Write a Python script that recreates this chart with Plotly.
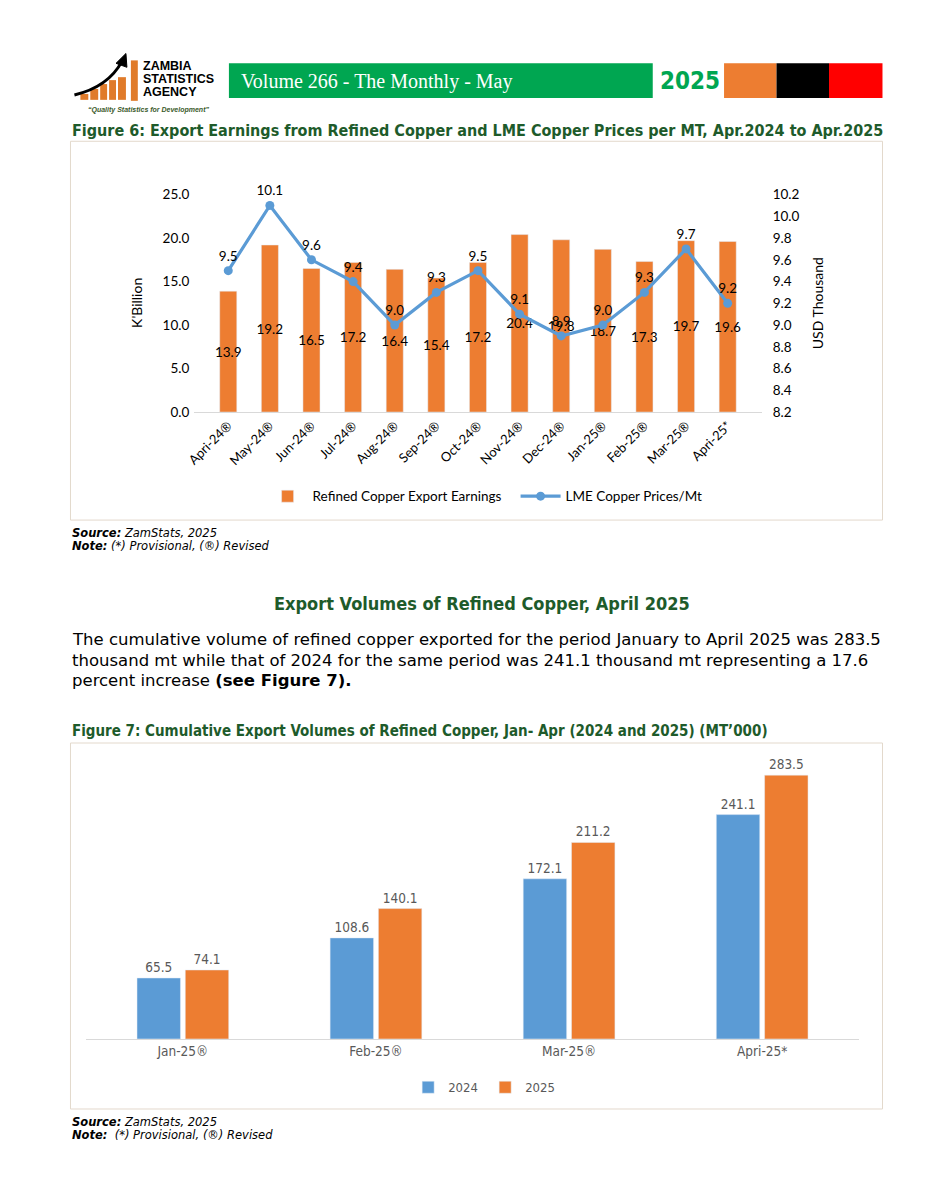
import plotly.graph_objects as go

# ---------------- data ----------------
months = ["Apri-24®", "May-24®", "Jun-24®", "Jul-24®", "Aug-24®", "Sep-24®", "Oct-24®",
          "Nov-24®", "Dec-24®", "Jan-25®", "Feb-25®", "Mar-25®", "Apri-25*"]
earnings = [13.9, 19.2, 16.5, 17.2, 16.4, 15.4, 17.2, 20.4, 19.8, 18.7, 17.3, 19.7, 19.6]
lme_prices = [9.5, 10.1, 9.6, 9.4, 9.0, 9.3, 9.5, 9.1, 8.9, 9.0, 9.3, 9.7, 9.2]

vol_cats = ["Jan-25®", "Feb-25®", "Mar-25®", "Apri-25*"]
vol_2024 = [65.5, 108.6, 172.1, 241.1]
vol_2025 = [74.1, 140.1, 211.2, 283.5]

# ---------------- helpers ----------------
# page is 940x1197; the figure sits inside the default 8px body margin
OFF = 8
W, H = 940 - 2 * OFF, 1197 - 2 * OFF
def X(px):
    return (px - OFF) / W
def Y(py):
    return 1 - (py - OFF) / H

ORANGE = "#ED7D31"
BLUE = "#5B9BD5"
GREEN_T = "#1E5B2B"
CAL = "Lato, Carlito, Calibri, sans-serif"
NARROW = "DejaVu Sans Condensed, sans-serif"
GOTH = "DejaVu Sans, Century Gothic, sans-serif"

fig = go.Figure()

# ---------------- Figure 6 ----------------
fig.add_trace(go.Bar(
    x=months, y=earnings, name="Refined Copper Export Earnings",
    marker_color=ORANGE, width=0.41,
    text=[f"{v:.1f}" for v in earnings], textposition="inside",
    insidetextanchor="middle", textangle=0,
    textfont=dict(family=CAL, size=13.5, color="black"),
    xaxis="x", yaxis="y", legend="legend", hoverinfo="skip"))
fig.add_trace(go.Scatter(
    x=months, y=lme_prices, name="LME Copper Prices/Mt",
    mode="lines+markers+text", line=dict(color=BLUE, width=3.2),
    marker=dict(color=BLUE, size=9),
    text=[f"{v:.1f}" for v in lme_prices], textposition="top center",
    textfont=dict(family=CAL, size=13.5, color="black"),
    xaxis="x", yaxis="y2", legend="legend", cliponaxis=False, hoverinfo="skip"))

# ---------------- Figure 7 ----------------
fig.add_trace(go.Bar(
    x=vol_cats, y=vol_2024, name="2024", marker_color=BLUE,
    text=[f"{v:.1f}" for v in vol_2024], textposition="outside",
    textfont=dict(family=NARROW, size=13.5, color="#595959"),
    xaxis="x3", yaxis="y3", legend="legend2", cliponaxis=False, hoverinfo="skip"))
fig.add_trace(go.Bar(
    x=vol_cats, y=vol_2025, name="2025", marker_color=ORANGE,
    text=[f"{v:.1f}" for v in vol_2025], textposition="outside",
    textfont=dict(family=NARROW, size=13.5, color="#595959"),
    xaxis="x3", yaxis="y3", legend="legend2", cliponaxis=False, hoverinfo="skip"))

shapes = []
annotations = []

def rect(x0, y0, x1, y1, fill=None, line=None, lw=0):
    shapes.append(dict(type="rect", xref="paper", yref="paper",
                       x0=X(x0), x1=X(x1), y0=Y(y1), y1=Y(y0),
                       fillcolor=fill if fill else "rgba(0,0,0,0)",
                       line=dict(color=line if line else "rgba(0,0,0,0)", width=lw),
                       layer="below"))

def text(px, py, s, size, color="black", family=GOTH, xanchor="left", angle=0):
    annotations.append(dict(x=X(px), y=Y(py), xref="paper", yref="paper", text=s,
                            showarrow=False, xanchor=xanchor, yanchor="middle",
                            textangle=angle,
                            font=dict(size=size, color=color, family=family)))

# ----- header / logo -----
for (x0, y0, x1, y1) in [(72, 87, 80, 93), (82, 82, 90, 93), (92, 77, 99, 93),
                         (101, 73, 108, 93), (110, 70, 118, 93), (123, 53, 130, 94)]:
    rect(x0, y0, x1, y1, fill="#E07B2A")
shapes.append(dict(type="path", xref="paper", yref="paper",
                   path=f"M {X(66)},{Y(88)} Q {X(100)},{Y(80)} {X(114)},{Y(54)}",
                   line=dict(color="black", width=3)))
shapes.append(dict(type="path", xref="paper", yref="paper",
                   path=f"M {X(108)},{Y(56)} L {X(118)},{Y(46)} L {X(119)},{Y(60)} Z",
                   fillcolor="black", line=dict(color="black", width=1)))
text(133, 59, "<b>ZAMBIA</b>", 12.5, family="Liberation Sans, Arial, sans-serif")
text(133, 72, "<b>STATISTICS</b>", 12.5, family="Liberation Sans, Arial, sans-serif")
text(133, 85, "<b>AGENCY</b>", 12.5, family="Liberation Sans, Arial, sans-serif")
text(141, 103, "<b><i>\u201cQuality Statistics for Development\u201d</i></b>", 7,
     color="#3A5A2A", family="Liberation Sans, Arial, sans-serif", xanchor="center")

rect(222, 56, 650, 91, fill="#00A651")
text(232, 74, "Volume 266 - The Monthly - May", 20, color="white",
     family="Liberation Serif, Times New Roman, serif")
text(688, 74, "<b>2025</b>", 24, color="#00A651", family=NARROW, xanchor="center")
rect(722, 56, 775, 91, fill="#ED7D31")
rect(775, 56, 828, 91, fill="black")
rect(828, 56, 882, 91, fill="#FF0000")

# ----- Figure 6 title, box, axis titles, notes -----
text(62, 124, "<b>Figure 6: Export Earnings from Refined Copper and LME Copper Prices per MT, Apr.2024 to Apr.2025</b>",
     16, color=GREEN_T, family=NARROW)
rect(62, 135, 882, 519, line="#E3D9CC", lw=1)
text(128, 299, "K'Billion", 14, family=CAL, xanchor="center", angle=-90)
text(816, 299, "USD Thousand", 14, family=CAL, xanchor="center", angle=-90)
text(62, 532, "<b><i>Source:</i></b><i> ZamStats, 2025</i>", 11.5, family=GOTH)
text(62, 545, "<b><i>Note:</i></b><i> (*) Provisional, (®) Revised</i>", 11.5, family=GOTH)

# ----- section text -----
text(478, 604, "<b>Export Volumes of Refined Copper, April 2025</b>", 18, color=GREEN_T,
     family="DejaVu Sans Condensed, sans-serif", xanchor="center")
text(62, 640, "The cumulative volume of refined copper exported for the period January to April 2025 was 283.5",
     16.5, family=GOTH)
text(62, 661, "thousand mt while that of 2024 for the same period was 241.1 thousand mt representing a 17.6",
     16.5, family=GOTH)
text(62, 682, "percent increase <b>(see Figure 7).</b>", 16.5, family=GOTH)

# ----- Figure 7 title, box, notes -----
text(62, 733, "<b>Figure 7: Cumulative Export Volumes of Refined Copper, Jan- Apr (2024 and 2025) (MT\u2019000)</b>",
     15, color=GREEN_T, family=NARROW)
rect(62, 745, 882, 1116, line="#E3D9CC", lw=1)
text(62, 1129, "<b><i>Source:</i></b><i> ZamStats, 2025</i>", 11.5, family=GOTH)
text(62, 1142, "<b><i>Note:</i></b><i>  (*) Provisional, (®) Revised</i>", 11.5, family=GOTH)

fig.update_layout(
    width=W, height=H, margin=dict(l=0, r=0, t=0, b=0, pad=0),
    paper_bgcolor="white", plot_bgcolor="white",
    showlegend=True, barmode="group", bargap=0.5, bargroupgap=0.1,
    uniformtext=dict(minsize=13, mode="show"),
    shapes=shapes, annotations=annotations,
    xaxis=dict(domain=[X(187), X(760)], anchor="y", showgrid=False, showline=True,
               linecolor="#D9D9D9", linewidth=1, ticks="", tickangle=-45,
               tickfont=dict(family=CAL, size=13, color="black"), fixedrange=True),
    yaxis=dict(domain=[Y(409.5), Y(189)], anchor="x", range=[0, 25], dtick=5,
               tickformat=".1f", showgrid=False, zeroline=False, showline=False,
               tickfont=dict(family=CAL, size=13.5, color="black"), ticklabelstandoff=4),
    yaxis2=dict(overlaying="y", side="right", anchor="x", range=[8.2, 10.2], dtick=0.2,
                tickformat=".1f", showgrid=False, zeroline=False, showline=False,
                tickfont=dict(family=CAL, size=13.5, color="black"), ticklabelstandoff=10),
    xaxis3=dict(domain=[X(78), X(858)], anchor="y3", showgrid=False, showline=True,
                linecolor="#D9D9D9", linewidth=1, ticks="",
                tickfont=dict(family=NARROW, size=13.5, color="#595959")),
    yaxis3=dict(domain=[Y(1045), Y(762)], anchor="x3", range=[0, 300], visible=False,
                showgrid=False),
    legend=dict(orientation="h", x=X(256), y=Y(495), xanchor="left", yanchor="middle",
                font=dict(family=CAL, size=13.5, color="black"), bgcolor="rgba(0,0,0,0)",
                itemwidth=40, entrywidth=198),
    legend2=dict(orientation="h", x=X(403), y=Y(1094), xanchor="left", yanchor="middle",
                 font=dict(family=NARROW, size=13, color="#595959"),
                 bgcolor="rgba(0,0,0,0)", itemwidth=30, entrywidth=32),
)

fig.write_html("out.html", config={"displayModeBar": False})
